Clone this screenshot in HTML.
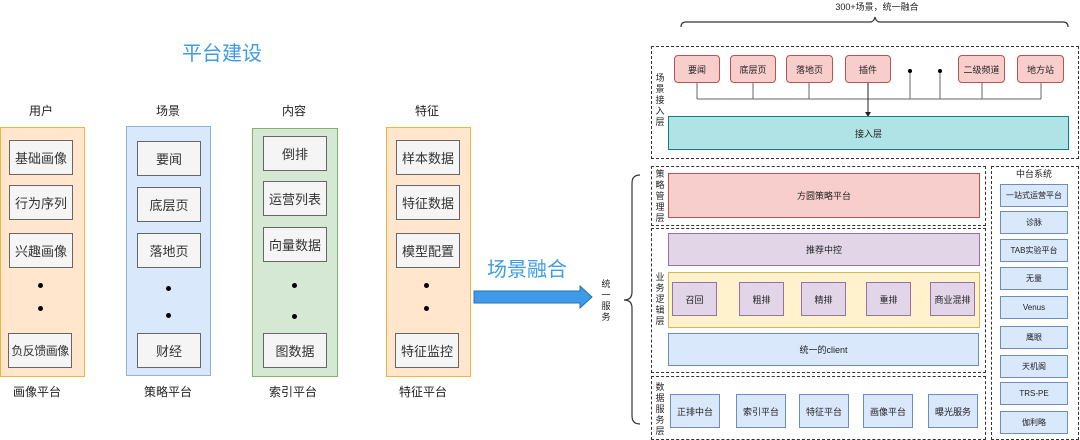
<!DOCTYPE html>
<html><head><meta charset="utf-8"><style>
*{margin:0;padding:0;box-sizing:border-box}
body{width:1080px;height:440px;background:#fff;position:relative;overflow:hidden;font-family:"Liberation Sans","Noto Sans CJK SC",sans-serif;color:#222}
.a{position:absolute;display:flex;align-items:center;justify-content:center;text-align:center;white-space:nowrap}
.ib{background:#f5f5f5;border:1px solid #666;font-size:13px;color:#333}
.t{font-size:12px;color:#222}
.pk{background:#f8cecc;border:1px solid #b85450;border-radius:4px;font-size:9px}
.bl{background:#dae8fc;border:1px solid #6c8ebf;font-size:9px}
.pu{background:#e1d5e7;border:1px solid #9673a6;font-size:9px}
.d{position:absolute;border:1.5px dashed #333}
.v{position:absolute;font-size:9px;line-height:11px;width:10px;text-align:center}
.dot{position:absolute;width:5px;height:5px;border-radius:50%;background:#000}
</style></head><body>
<div class="a" style="left:170px;top:38px;width:104px;height:26px;font-size:20px;color:#3d9be9">平台建设</div>
<div class="a t" style="left:20px;top:102px;width:42px;height:16px">用户</div>
<div class="a t" style="left:147px;top:102px;width:42px;height:16px">场景</div>
<div class="a t" style="left:273px;top:102px;width:42px;height:16px">内容</div>
<div class="a t" style="left:406px;top:102px;width:42px;height:16px">特征</div>

<div class="a" style="left:0;top:127px;width:85px;height:250px;background:#ffe6cc;border:1px solid #f0b43d"></div>
<div class="a" style="left:126px;top:126px;width:85px;height:250px;background:#dae8fc;border:1px solid #8fb0e0"></div>
<div class="a" style="left:252px;top:128px;width:86px;height:249px;background:#d5e8d4;border:1px solid #82b366"></div>
<div class="a" style="left:386px;top:127px;width:85px;height:250px;background:#ffe6cc;border:1px solid #f0b43d"></div>

<div class="a ib" style="left:9px;top:140px;width:64px;height:35px">基础画像</div>
<div class="a ib" style="left:9px;top:185px;width:64px;height:35px">行为序列</div>
<div class="a ib" style="left:9px;top:233px;width:64px;height:35px">兴趣画像</div>
<div class="dot" style="left:38px;top:283px"></div><div class="dot" style="left:38px;top:306px"></div>
<div class="a ib" style="left:8px;top:333px;width:64px;height:35px;font-size:12px;letter-spacing:-0.5px">负反馈画像</div>

<div class="a ib" style="left:137px;top:141px;width:64px;height:35px">要闻</div>
<div class="a ib" style="left:137px;top:187px;width:64px;height:35px">底层页</div>
<div class="a ib" style="left:137px;top:233px;width:64px;height:35px">落地页</div>
<div class="dot" style="left:166px;top:286px"></div><div class="dot" style="left:166px;top:313px"></div>
<div class="a ib" style="left:137px;top:333px;width:64px;height:35px">财经</div>

<div class="a ib" style="left:263px;top:136px;width:64px;height:35px">倒排</div>
<div class="a ib" style="left:263px;top:181px;width:64px;height:35px">运营列表</div>
<div class="a ib" style="left:263px;top:227px;width:64px;height:35px">向量数据</div>
<div class="dot" style="left:292px;top:283px"></div><div class="dot" style="left:292px;top:314px"></div>
<div class="a ib" style="left:263px;top:333px;width:64px;height:35px">图数据</div>

<div class="a ib" style="left:396px;top:140px;width:64px;height:35px">样本数据</div>
<div class="a ib" style="left:396px;top:185px;width:64px;height:35px">特征数据</div>
<div class="a ib" style="left:396px;top:233px;width:64px;height:35px">模型配置</div>
<div class="dot" style="left:424px;top:283px"></div><div class="dot" style="left:424px;top:306px"></div>
<div class="a ib" style="left:395px;top:333px;width:64px;height:35px">特征监控</div>

<div class="a t" style="left:7px;top:383px;width:60px;height:16px">画像平台</div>
<div class="a t" style="left:138px;top:383px;width:60px;height:16px">策略平台</div>
<div class="a t" style="left:263px;top:383px;width:60px;height:16px">索引平台</div>
<div class="a t" style="left:393px;top:383px;width:60px;height:16px">特征平台</div>

<div class="a" style="left:480px;top:254px;width:94px;height:26px;font-size:20px;color:#3d9be9">场景融合</div>
<svg style="position:absolute;left:0;top:0" width="1080" height="440">
<polygon points="474,291 580,291 580,286 592,297 580,308 580,303 474,303" fill="#3d9be9" stroke="#2a6fb0" stroke-width="1"/>
<path d="M681,27 q0,-5 5,-5 L870,22 q4,0 5,-5 q1,5 5,5 L1063,22 q5,0 5,5" fill="none" stroke="#333" stroke-width="1.2"/>
<path d="M640,175 q-8,0 -8,8 L632,292 q0,8 -8,8 q8,0 8,8 L632,416 q0,8 8,8" fill="none" stroke="#333" stroke-width="1.2"/>
<g stroke="#666" stroke-width="1" fill="none">
<path d="M697,83V99M753,83V99M809,83V99M982,83V99M1041,83V99M697,99H1041M910,71V99M940,71V99"/>
</g>
<line x1="868" y1="83" x2="868" y2="112" stroke="#222"/>
<polygon points="865,112 871,112 868,117" fill="#222"/>
<circle cx="910" cy="71" r="2" fill="#000"/><circle cx="940" cy="71" r="2" fill="#000"/>
</svg>
<div class="a" style="left:797px;top:0;width:160px;height:12px;font-size:9px">300+场景，统一融合</div>
<div class="v" style="left:601px;top:279px">统<br>一<br>服<br>务</div>

<div class="d" style="left:651px;top:46px;width:428px;height:113px"></div>
<div class="v" style="left:655px;top:73px">场<br>景<br>接<br>入<br>层</div>
<div class="a pk" style="left:674px;top:55px;width:46px;height:28px">要闻</div>
<div class="a pk" style="left:730px;top:55px;width:46px;height:28px">底层页</div>
<div class="a pk" style="left:786px;top:55px;width:47px;height:28px">落地页</div>
<div class="a pk" style="left:845px;top:55px;width:46px;height:28px">插件</div>
<div class="a pk" style="left:958px;top:55px;width:47px;height:28px">二级频道</div>
<div class="a pk" style="left:1017px;top:55px;width:47px;height:28px">地方站</div>
<div class="a" style="left:668px;top:116px;width:401px;height:34px;background:#b0e3e6;border:1px solid #0e8088;font-size:9px">接入层</div>

<div class="d" style="left:651px;top:166px;width:335px;height:60px"></div>
<div class="v" style="left:655px;top:169px">策<br>略<br>管<br>理<br>层</div>
<div class="a" style="left:668px;top:173px;width:312px;height:45px;background:#f8cecc;border:1px solid #b85450;font-size:9px">方圆策略平台</div>

<div class="d" style="left:651px;top:228px;width:335px;height:145px"></div>
<div class="v" style="left:655px;top:272px">业<br>务<br>逻<br>辑<br>层</div>
<div class="a pu" style="left:668px;top:233px;width:312px;height:33px">推荐中控</div>
<div class="a" style="left:668px;top:272px;width:312px;height:56px;background:#fff2cc;border:1px solid #d6b656"></div>
<div class="a pu" style="left:672px;top:282px;width:45px;height:34px">召回</div>
<div class="a pu" style="left:739px;top:282px;width:45px;height:34px">粗排</div>
<div class="a pu" style="left:801px;top:282px;width:45px;height:34px">精排</div>
<div class="a pu" style="left:866px;top:282px;width:45px;height:34px">重排</div>
<div class="a pu" style="left:930px;top:282px;width:45px;height:34px">商业混排</div>
<div class="a bl" style="left:668px;top:333px;width:311px;height:33px">统一的client</div>

<div class="d" style="left:651px;top:376px;width:335px;height:64px"></div>
<div class="v" style="left:655px;top:382px">数<br>据<br>服<br>务<br>层</div>
<div class="a bl" style="left:670px;top:394px;width:50px;height:34px">正排中台</div>
<div class="a bl" style="left:736px;top:394px;width:50px;height:34px">索引平台</div>
<div class="a bl" style="left:799px;top:394px;width:50px;height:34px">特征平台</div>
<div class="a bl" style="left:863px;top:394px;width:50px;height:34px">画像平台</div>
<div class="a bl" style="left:928px;top:394px;width:50px;height:34px">曝光服务</div>

<div class="d" style="left:991px;top:166px;width:88px;height:274px"></div>
<div class="a" style="left:1000px;top:166px;width:68px;height:14px;font-size:9px">中台系统</div>
<div class="a bl" style="left:1000px;top:184px;width:68px;height:23px;font-size:8px">一站式运营平台</div>
<div class="a bl" style="left:1000px;top:211px;width:68px;height:23px;font-size:8px">诊脉</div>
<div class="a bl" style="left:1000px;top:239px;width:68px;height:23px;font-size:8px">TAB实验平台</div>
<div class="a bl" style="left:1000px;top:267px;width:68px;height:23px;font-size:8px">无量</div>
<div class="a bl" style="left:1000px;top:296px;width:68px;height:23px;font-size:8px">Venus</div>
<div class="a bl" style="left:1000px;top:326px;width:68px;height:23px;font-size:8px">鹰眼</div>
<div class="a bl" style="left:1000px;top:355px;width:68px;height:23px;font-size:8px">天机阁</div>
<div class="a bl" style="left:1000px;top:382px;width:68px;height:23px;font-size:8px">TRS-PE</div>
<div class="a bl" style="left:1000px;top:411px;width:68px;height:23px;font-size:8px">伽利略</div>
</body></html>
